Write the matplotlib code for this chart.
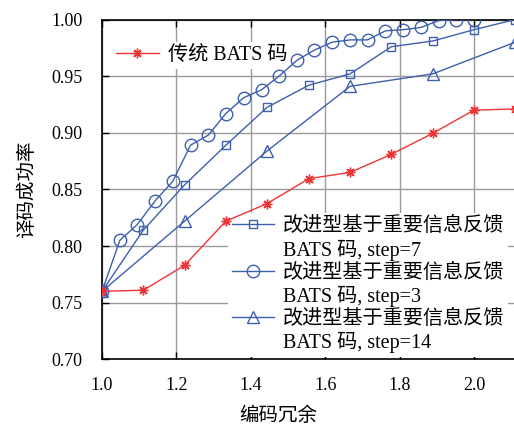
import matplotlib
matplotlib.use('Agg')
import matplotlib.pyplot as plt
from matplotlib.lines import Line2D

plt.rcParams['font.family'] = ['Liberation Serif', 'Noto Sans CJK SC', 'DejaVu Sans']

x_step3 = [1.0, 1.048, 1.095, 1.143, 1.190, 1.238, 1.286, 1.333, 1.381, 1.429, 1.476,
           1.524, 1.571, 1.619, 1.667, 1.714, 1.762, 1.810, 1.857, 1.905, 1.952, 2.0]
y_step3 = [0.760, 0.805, 0.819, 0.840, 0.857, 0.889, 0.898, 0.917, 0.931, 0.938, 0.950,
           0.964, 0.973, 0.980, 0.982, 0.982, 0.990, 0.991, 0.993, 0.999, 1.000, 1.000]
x_step7 = [1.0, 1.111, 1.222, 1.333, 1.444, 1.556, 1.667, 1.778, 1.889, 2.0, 2.111]
y_step7 = [0.760, 0.814, 0.854, 0.889, 0.9225, 0.942, 0.952, 0.976, 0.981, 0.991, 1.000]
x_step14 = [1.0, 1.222, 1.444, 1.667, 1.889, 2.111]
y_step14 = [0.760, 0.822, 0.884, 0.941, 0.952, 0.980]
x_bats = [1.0, 1.111, 1.222, 1.333, 1.444, 1.556, 1.667, 1.778, 1.889, 2.0, 2.111]
y_bats = [0.760, 0.761, 0.783, 0.822, 0.8375, 0.8595, 0.865, 0.881, 0.8995, 0.920, 0.921]

label_bats = '传统 BATS 码'
label_imp = '改进型基于重要信息反馈'
label_s7 = 'BATS 码, step=7'
label_s3 = 'BATS 码, step=3'
label_s14 = 'BATS 码, step=14'

blue = '#3D5FAE'
red = '#EE3535'

fig = plt.figure(figsize=(5.14, 4.26), dpi=100)
ax = fig.add_axes([102/514, (426-359.3)/426, 412/514, (359.3-19.5)/426])

l7, = ax.plot(x_step7, y_step7, color=blue, lw=1.0, marker='s', ms=5.5, mfc='none', mew=1.0, zorder=3)
l3, = ax.plot(x_step3, y_step3, color=blue, lw=1.0, marker='o', ms=9, mfc='none', mew=1.0, zorder=3)
l14, = ax.plot(x_step14, y_step14, color=blue, lw=1.0, marker='^', ms=8, mfc='none', mew=1.0, zorder=3)
lb, = ax.plot(x_bats, y_bats, color=red, lw=1.0, marker=(8, 2, 0), ms=7, mew=1.0, zorder=3)

ax.set_xlim(1.0, 2.1075)
ax.set_ylim(0.70, 1.00)
ax.set_xticks([1.0, 1.2, 1.4, 1.6, 1.8, 2.0])
ax.set_xticklabels(['1.0', '1.2', '1.4', '1.6', '1.8', '2.0'])
ax.set_yticks([0.70, 0.75, 0.80, 0.85, 0.90, 0.95, 1.00])
ax.set_yticklabels(['0.70', '0.75', '0.80', '0.85', '0.90', '0.95', '1.00'])
ax.tick_params(direction='in', length=5, width=1.0, labelsize=13, pad=13,
               top=True, right=False, colors='black')
ax.tick_params(axis='y', pad=14)
ax.grid(True, color='#9a9a9a', lw=1.0)
ax.set_axisbelow(True)
for s in ['left', 'bottom', 'top']:
    ax.spines[s].set_linewidth(1.2)
ax.spines['right'].set_visible(False)

ax.set_ylabel('译码成功率', fontsize=14, labelpad=11)
ax.set_xlabel('编码冗余', fontsize=14)
ax.xaxis.set_label_coords(0.427, -0.14)

blank = Line2D([], [], linestyle='none', marker='none')
leg1 = ax.legend([lb], [label_bats], loc='center left', bbox_to_anchor=(0.025, 0.895),
                 fontsize=14.5, frameon=True, facecolor='white', edgecolor='none',
                 framealpha=1, fancybox=False, borderpad=0.2, borderaxespad=0,
                 handlelength=2.1, handletextpad=0.45)
leg1.set_zorder(1.5)
ax.add_artist(leg1)
leg2 = ax.legend([l7, blank, l3, blank, l14, blank],
                 [label_imp, label_s7, label_imp, label_s3, label_imp, label_s14],
                 loc='upper left', bbox_to_anchor=(0.305, 0.43),
                 fontsize=14.5, frameon=True, facecolor='white', edgecolor='none',
                 framealpha=1, fancybox=False, borderpad=0.2, borderaxespad=0,
                 handlelength=2.1, handletextpad=0.45, labelspacing=0.15)
leg2.set_zorder(1.5)

fig.savefig('out.png', dpi=100)
